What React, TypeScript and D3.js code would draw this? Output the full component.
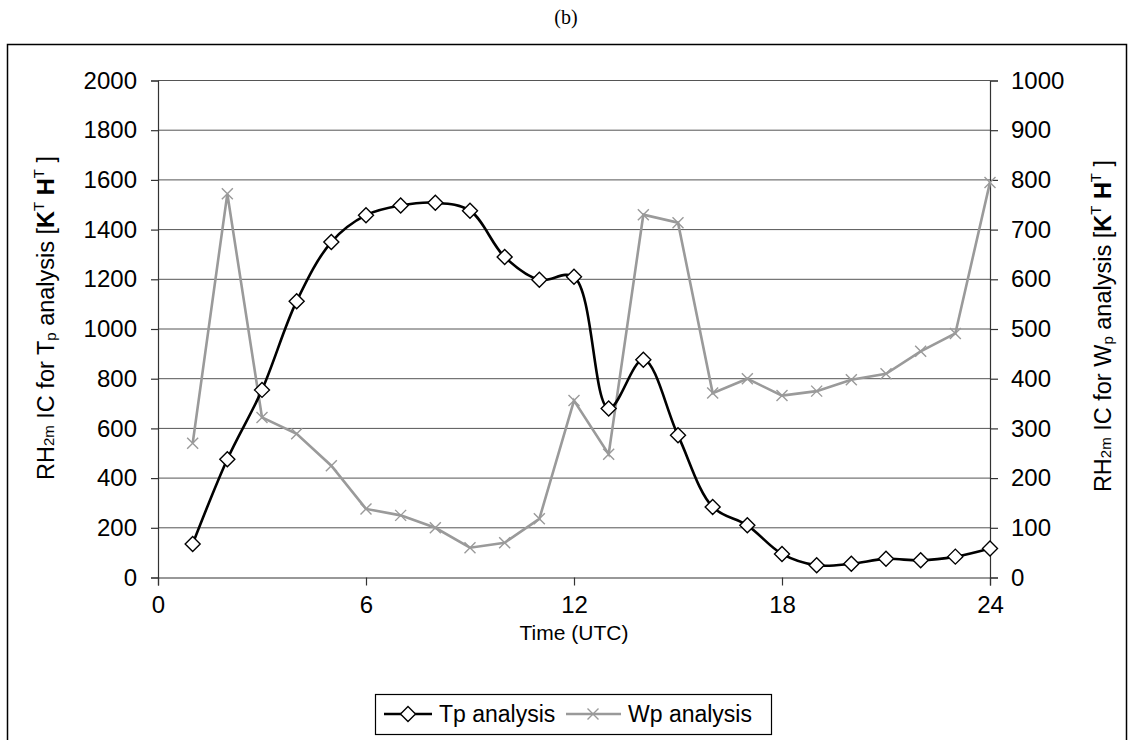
import React, { useEffect, useRef } from "react";
import * as d3 from "d3";

// hours of the day (UTC)
const hours = [1, 2, 3, 4, 5, 6, 7, 8, 9, 10, 11, 12, 13, 14, 15, 16, 17, 18, 19, 20, 21, 22, 23, 24];
// Tp analysis, left axis
const tpValues = [135, 476, 755, 1112, 1350, 1458, 1497, 1508, 1476, 1290, 1198, 1210, 680, 876, 572, 284, 210, 95, 49, 55, 75, 69, 84, 117];
// Wp analysis, right axis
const wpValues = [270, 772, 322, 289, 225, 138, 125, 100, 60, 70, 118, 356, 248, 730, 714, 371, 400, 366, 375, 398, 410, 455, 491, 795];

const xTicks = [0, 6, 12, 18, 24];
const leftTicks = [0, 200, 400, 600, 800, 1000, 1200, 1400, 1600, 1800, 2000];
const rightTicks = [0, 100, 200, 300, 400, 500, 600, 700, 800, 900, 1000];
const seriesNames = ["Tp analysis", "Wp analysis"];

const W = 1133;
const H = 740;
const margin = { left: 158, right: 143, top: 80.5, bottom: 162.5 };
const FONT = "'Liberation Sans', Arial, sans-serif";
const GRAY = "#9a9a9a";

function App() {
  const svgRef = useRef(null);

  useEffect(() => {
    const svg = d3.select(svgRef.current);
    svg.selectAll("*").remove();

    const x = d3.scaleLinear().domain([0, 24]).range([margin.left, W - margin.right]);
    const yL = d3.scaleLinear().domain([0, 2000]).range([H - margin.bottom, margin.top]);
    const yR = d3.scaleLinear().domain([0, 1000]).range([H - margin.bottom, margin.top]);
    const fmt = d3.format("d");

    // outer frame + title
    svg.append("rect").attr("x", 7.5).attr("y", 44.5).attr("width", 1119).attr("height", 720)
      .attr("fill", "none").attr("stroke", "#000").attr("stroke-width", 1.5);
    svg.append("text").attr("x", 566).attr("y", 24).attr("text-anchor", "middle")
      .attr("font-family", "'Liberation Serif', 'Times New Roman', serif").attr("font-size", 20).text("(b)");

    // grid
    svg.append("g").selectAll("line").data(leftTicks.filter((d) => d > 0)).join("line")
      .attr("x1", x(0)).attr("x2", x(24))
      .attr("y1", (d) => yL(d)).attr("y2", (d) => yL(d))
      .attr("stroke", "#555").attr("stroke-width", 1);

    // axes
    const styleAxis = (g) => {
      g.select(".domain").attr("stroke", "#333").attr("stroke-width", 1.2);
      g.selectAll(".tick line").attr("stroke", "#333").attr("stroke-width", 1.2);
      g.selectAll("text").attr("font-family", FONT).attr("font-size", 24).attr("fill", "#000");
    };
    svg.append("g").attr("transform", `translate(${x(0)},0)`)
      .call(d3.axisLeft(yL).tickValues(leftTicks).tickFormat(fmt).tickSizeOuter(0).tickSize(7).tickPadding(14))
      .call(styleAxis);
    svg.append("g").attr("transform", `translate(${x(24)},0)`)
      .call(d3.axisRight(yR).tickValues(rightTicks).tickFormat(fmt).tickSizeOuter(0).tickSize(8).tickPadding(13))
      .call(styleAxis);
    svg.append("g").attr("transform", `translate(0,${yL(0)})`)
      .call(d3.axisBottom(x).tickValues(xTicks).tickFormat(fmt).tickSizeOuter(0).tickSize(8).tickPadding(10))
      .call(styleAxis);

    // Wp line (straight, gray)
    const wpLine = d3.line().x((d, i) => x(hours[i])).y((d) => yR(d));
    svg.append("path").datum(wpValues).attr("d", wpLine)
      .attr("fill", "none").attr("stroke", GRAY).attr("stroke-width", 2.6);
    const cross = (g, cx, cy, r) => {
      g.append("path").attr("d", `M${cx - r},${cy - r}L${cx + r},${cy + r}M${cx - r},${cy + r}L${cx + r},${cy - r}`)
        .attr("stroke", GRAY).attr("stroke-width", 1.4).attr("fill", "none");
    };
    const wpMarks = svg.append("g");
    wpValues.forEach((v, i) => cross(wpMarks, x(hours[i]), yR(v), 5.5));

    // Tp line (smoothed, black)
    const tpLine = d3.line().x((d, i) => x(hours[i])).y((d) => yL(d)).curve(d3.curveCatmullRom.alpha(0.5));
    svg.append("path").datum(tpValues).attr("d", tpLine)
      .attr("fill", "none").attr("stroke", "#000").attr("stroke-width", 2.6);
    const diamond = (g, cx, cy, r) => {
      g.append("path").attr("d", `M${cx},${cy - r}L${cx + r},${cy}L${cx},${cy + r}L${cx - r},${cy}Z`)
        .attr("fill", "#fff").attr("stroke", "#000").attr("stroke-width", 1.4);
    };
    const tpMarks = svg.append("g");
    tpValues.forEach((v, i) => diamond(tpMarks, x(hours[i]), yL(v), 7.5));

    // axis titles
    const axisTitle = (tx, ty, sub) => {
      const t = svg.append("text").attr("transform", `translate(${tx},${ty}) rotate(-90)`)
        .attr("text-anchor", "middle").attr("font-family", FONT).attr("font-size", 23.5);
      t.append("tspan").text("RH");
      t.append("tspan").attr("font-size", 15).text("2m");
      t.append("tspan").text(" IC for " + sub[0]);
      t.append("tspan").attr("font-size", 15).attr("dy", 2).text(sub[1]);
      t.append("tspan").attr("dy", -2).text(" analysis [");
      t.append("tspan").attr("font-weight", "bold").text("K");
      t.append("tspan").attr("font-size", 15).attr("dy", -10).text("T");
      t.append("tspan").attr("dy", 10).attr("font-weight", "bold").text(" H");
      t.append("tspan").attr("font-size", 15).attr("dy", -10).text("T");
      t.append("tspan").attr("dy", 10).text(" ]");
    };
    axisTitle(54, 318, ["T", "p"]);
    axisTitle(1111, 326, ["W", "p"]);

    svg.append("text").attr("x", (x(0) + x(24)) / 2).attr("y", 640).attr("text-anchor", "middle")
      .attr("font-family", FONT).attr("font-size", 21).text("Time (UTC)");

    // legend
    const lg = svg.append("g");
    lg.append("rect").attr("x", 375.5).attr("y", 694.5).attr("width", 396).attr("height", 40)
      .attr("fill", "#fff").attr("stroke", "#000").attr("stroke-width", 1.2);
    lg.append("line").attr("x1", 384).attr("x2", 432).attr("y1", 714).attr("y2", 714)
      .attr("stroke", "#000").attr("stroke-width", 2.6);
    diamond(lg, 408, 714, 7.5);
    lg.append("text").attr("x", 439).attr("y", 722).attr("font-family", FONT).attr("font-size", 23).text(seriesNames[0]);
    lg.append("line").attr("x1", 566).attr("x2", 621).attr("y1", 714).attr("y2", 714)
      .attr("stroke", GRAY).attr("stroke-width", 2.6);
    cross(lg, 593, 714, 5.5);
    lg.append("text").attr("x", 628).attr("y", 722).attr("font-family", FONT).attr("font-size", 23).text(seriesNames[1]);
  }, []);

  return (
    <svg ref={svgRef} width={W} height={H}
      style={{ position: "absolute", left: 0, top: 0, background: "#fff" }} />
  );
}

export default App;
